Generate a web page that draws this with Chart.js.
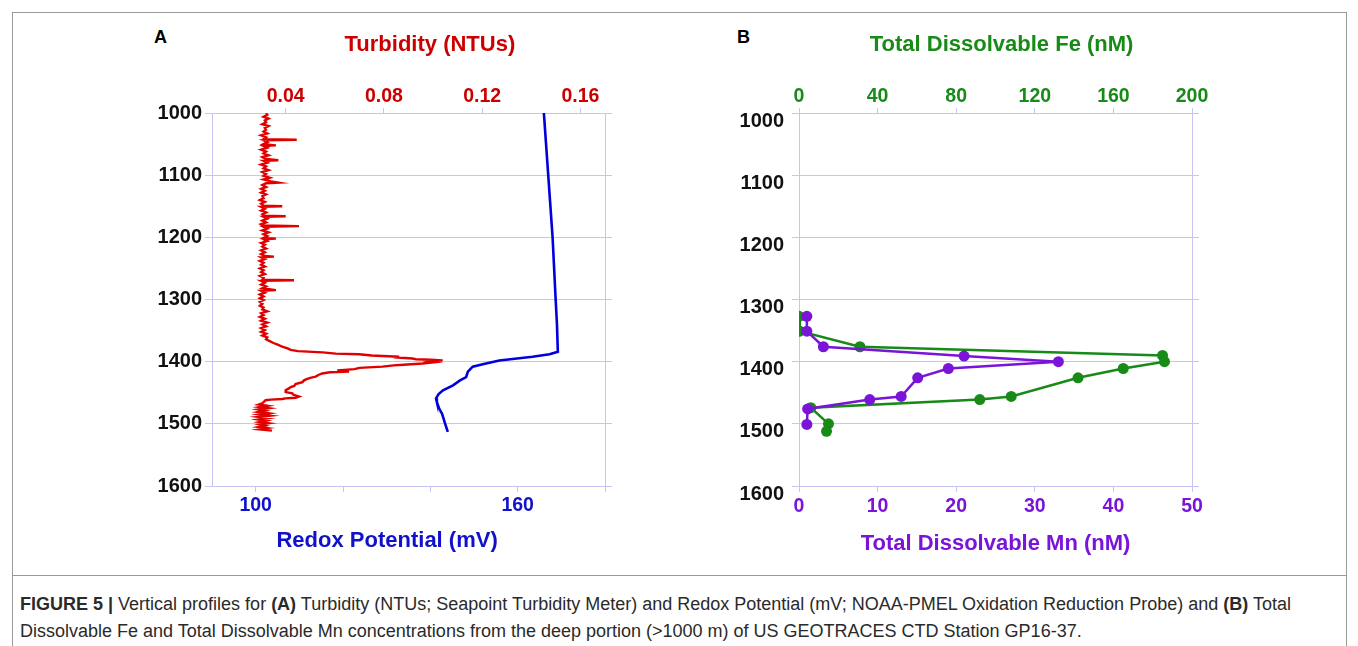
<!DOCTYPE html>
<html lang="en">

<head>
    <meta charset="UTF-8">
    <script src="https://cdn.jsdelivr.net/npm/chart.js"></script>
    <title>Figure 5</title>
    <style>
        body { margin: 0; background: #fff; font-family: "Liberation Sans", Arial, sans-serif; }
        #page { position: relative; width: 1358px; height: 646px; overflow: hidden; }
        #frame { position: absolute; left: 12px; top: 12px; width: 1333px; height: 700px; border: 1px solid #9a9a9a; }
        #sep { position: absolute; left: 12px; top: 575px; width: 1335px; height: 1px; background: #9a9a9a; }
        .panel { position: absolute; font-weight: bold; font-size: 18px; color: #000; }
        canvas { position: absolute; top: 0; }
        #caption { position: absolute; left: 20px; top: 591px; width: 1320px; font-size: 18px; line-height: 27px; color: #2a2a2a; }
    </style>
</head>

<body>
    <div id="page">
        <div id="frame"></div>
        <div id="sep"></div>
        <div class="panel" style="left:154px; top:27px;">A</div>
        <div class="panel" style="left:737px; top:27px;">B</div>
        <canvas id="panelA" width="520" height="575" style="left:130px;"></canvas>
        <canvas id="panelB" width="520" height="575" style="left:720px;"></canvas>
        <div id="caption"><b>FIGURE 5 |</b> Vertical profiles for <b>(A)</b> Turbidity (NTUs; Seapoint Turbidity Meter) and Redox Potential (mV; NOAA-PMEL Oxidation Reduction Probe) and <b>(B)</b> Total<br>Dissolvable Fe and Total Dissolvable Mn concentrations from the deep portion (&gt;1000 m) of US GEOTRACES CTD Station GP16-37.</div>
    </div>
</body>

<script>
    // ---- panel A : CTD profiles ----
    let turbDepth = [1000, 1003, 1006, 1009, 1012, 1015, 1018, 1021, 1024, 1027, 1030, 1033, 1036, 1039, 1042, 1043, 1044, 1047, 1050, 1052,
        1053, 1056, 1059, 1062, 1065, 1068, 1071, 1074, 1076, 1077, 1080, 1083, 1086, 1089, 1092, 1095, 1098, 1101, 1104, 1107,
        1110, 1112, 1113, 1116, 1119, 1122, 1125, 1128, 1131, 1134, 1137, 1140, 1143, 1146, 1149, 1150, 1151, 1154, 1157, 1160,
        1163, 1165, 1166, 1167, 1170, 1173, 1176, 1179, 1181, 1182, 1183, 1186, 1189, 1192, 1195, 1198, 1201, 1202, 1203, 1206,
        1209, 1212, 1215, 1218, 1221, 1224, 1227, 1230, 1231, 1232, 1235, 1238, 1241, 1244, 1247, 1250, 1253, 1256, 1259, 1262,
        1265, 1268, 1269, 1270, 1273, 1276, 1279, 1282, 1285, 1286, 1289, 1292, 1295, 1298, 1301, 1304, 1307, 1310, 1313, 1316,
        1319, 1322, 1325, 1328, 1331, 1334, 1337, 1340, 1343, 1346, 1349, 1352, 1355, 1358, 1361, 1364, 1367, 1370, 1373, 1376,
        1379, 1381, 1383, 1385, 1387, 1388, 1390, 1392, 1393, 1395, 1396, 1397, 1398, 1399, 1400, 1401, 1403, 1405, 1406, 1408,
        1410, 1412, 1414, 1416, 1417, 1419, 1421, 1424, 1426, 1428, 1430, 1433, 1436, 1439, 1441, 1443, 1446, 1449, 1451, 1453,
        1456, 1458, 1459, 1460, 1461, 1462, 1465, 1467, 1469, 1471, 1473, 1475, 1477, 1479, 1481, 1483, 1485, 1487, 1489, 1491,
        1493, 1495, 1497, 1499, 1501, 1503, 1505, 1507, 1509, 1511];
    let turbValue = [0.032, 0.0325, 0.031, 0.033, 0.0315, 0.032, 0.0305, 0.033, 0.0315, 0.032, 0.031, 0.0325, 0.030, 0.032, 0.031, 0.0445, 0.031, 0.0325, 0.031, 0.036,
        0.031, 0.0325, 0.030, 0.032, 0.031, 0.033, 0.0305, 0.032, 0.037, 0.031, 0.0325, 0.030, 0.032, 0.031, 0.033, 0.0305, 0.032, 0.031, 0.0335, 0.031,
        0.034, 0.037, 0.032, 0.0305, 0.032, 0.030, 0.0315, 0.030, 0.032, 0.0305, 0.031, 0.0295, 0.0315, 0.030, 0.031, 0.0386, 0.030, 0.0315, 0.030, 0.032,
        0.0305, 0.031, 0.040, 0.031, 0.0325, 0.0305, 0.032, 0.030, 0.031, 0.0454, 0.031, 0.0325, 0.0305, 0.033, 0.031, 0.0325, 0.031, 0.036, 0.031, 0.0325,
        0.030, 0.0315, 0.0305, 0.032, 0.030, 0.0315, 0.030, 0.0315, 0.0352, 0.030, 0.0315, 0.0295, 0.031, 0.030, 0.0315, 0.0295, 0.031, 0.030, 0.0315, 0.0295,
        0.031, 0.0305, 0.0434, 0.030, 0.0315, 0.030, 0.032, 0.0305, 0.036, 0.030, 0.0315, 0.0295, 0.031, 0.0295, 0.031, 0.0295, 0.0305, 0.0295, 0.031, 0.0305,
        0.0325, 0.030, 0.031, 0.0295, 0.0315, 0.030, 0.0325, 0.0305, 0.032, 0.030, 0.0315, 0.030, 0.032, 0.0305, 0.0325, 0.032, 0.0335, 0.035, 0.037, 0.0386,
        0.041, 0.042, 0.045, 0.055, 0.0604, 0.0699, 0.075, 0.0862, 0.084, 0.0916, 0.093, 0.099, 0.1039, 0.101, 0.099, 0.1005, 0.0957, 0.088, 0.084, 0.0794,
        0.070, 0.068, 0.061, 0.0658, 0.058, 0.0549, 0.0535, 0.0522, 0.050, 0.0485, 0.0475, 0.0468, 0.044, 0.0435, 0.042, 0.0413, 0.040, 0.040, 0.0427, 0.043,
        0.0454, 0.044, 0.040, 0.0386, 0.034, 0.0318, 0.031, 0.0304, 0.029, 0.0325, 0.0295, 0.033, 0.029, 0.0315, 0.029, 0.033, 0.0295, 0.0335, 0.029, 0.0325,
        0.029, 0.032, 0.0295, 0.033, 0.0295, 0.0315, 0.029, 0.0325, 0.0295, 0.0344];

    let redoxDepth = [1000, 1100, 1200, 1300, 1340, 1384, 1388, 1392, 1398, 1404, 1408, 1416, 1425, 1430, 1438, 1446, 1452, 1459, 1465, 1475, 1484, 1500, 1513];
    let redoxValue = [166.0, 167.0, 168.0, 168.7, 169.0, 169.2, 167.3, 163.4, 155.8, 152.0, 149.7, 148.6, 148.2, 146.8, 145.2, 142.9, 141.9, 141.3, 141.5, 142.0, 142.7, 143.4, 144.0];

    let turbTicks = [0.04, 0.08, 0.12, 0.16];
    let redoxTicks = [100, 120, 140, 160, 180];
    let redoxLabels = [100, 160];

    // ---- panel B : bottle samples ----
    let feDepth = [1327, 1351, 1376, 1390, 1400, 1411, 1426, 1456, 1461, 1474, 1500, 1512];
    let feValue = [0, 0.4, 31, 185, 186, 165, 142, 108, 92, 6, 15, 14];
    let mnDepth = [1327, 1351, 1376, 1391, 1400, 1411, 1426, 1456, 1461, 1476, 1501];
    let mnValue = [1.0, 1.0, 3.1, 21.0, 33.0, 19.0, 15.1, 13.0, 9.0, 1.1, 1.0];

    let feTicks = [0, 40, 80, 120, 160, 200];
    let mnTicks = [0, 10, 20, 30, 40, 50];
    let depthTicks = [1000, 1100, 1200, 1300, 1400, 1500, 1600];

    const GRID = '#c6c6f6';
    const RED = '#e00000', BLUE = '#0000dd', GREEN = '#178a17', PURPLE = '#7a14d8';
    const FONT = 'Liberation Sans, Arial, sans-serif';

    function pts(xs, ys) {
        return xs.map((v, i) => ({ x: v, y: ys[i] }));
    }

    function depthAxes(labelPad, labelShift, leftW, rightW) {
        return {
            y: {
                type: 'linear', position: 'left', reverse: true, min: 1000, max: 1600,
                afterBuildTicks: s => { s.ticks = depthTicks.map(v => ({ value: v })); },
                afterFit: s => { s.width = leftW; },
                ticks: { color: '#111', padding: labelPad, labelOffset: labelShift, callback: v => String(v), font: { family: FONT, size: 20, weight: 'bold' } },
                grid: { color: GRID, tickLength: 7 },
                border: { color: GRID }
            },
            yR: {
                type: 'linear', position: 'right', reverse: true, min: 1000, max: 1600,
                afterBuildTicks: s => { s.ticks = depthTicks.map(v => ({ value: v })); },
                afterFit: s => { s.width = rightW; },
                ticks: { callback: () => '', padding: 0 },
                grid: { color: GRID, tickLength: 7, drawOnChartArea: false },
                border: { color: GRID }
            }
        };
    }

    function xAxis(pos, min, max, tickVals, labelFn, color, title, h, tickLen, labelPad, tPad) {
        return {
            type: 'linear', position: pos, min: min, max: max,
            afterBuildTicks: s => { s.ticks = tickVals.map(v => ({ value: v })); },
            afterFit: s => { s.height = h; },
            ticks: { color: color, padding: labelPad, callback: labelFn, font: { family: FONT, size: 19.5, weight: 'bold' } },
            grid: { color: GRID, tickLength: tickLen, drawOnChartArea: false },
            border: { color: GRID },
            title: { display: true, text: title, color: color, padding: tPad, font: { family: FONT, size: 22, weight: 'bold' } }
        };
    }

    // spaces around some titles nudge them off the plot centre, as in the figure
    let axesA = depthAxes(3, 0, 82, 45);
    axesA.xT = xAxis('top', 0.01, 0.17, turbTicks, v => v.toFixed(2), '#cc0000', '       Turbidity (NTUs)', 113, 5, 0, { top: 32, bottom: 0 });
    axesA.xB = xAxis('bottom', 90, 180, redoxTicks, v => redoxLabels.includes(v) ? v : '', '#1111cc', 'Redox Potential (mV)       ', 89, 6, 2, { top: 0, bottom: 21 });

    new Chart(document.getElementById('panelA'), {
        type: 'scatter',
        data: {
            datasets: [{
                data: pts(turbValue, turbDepth), xAxisID: 'xT', yAxisID: 'y',
                showLine: true, borderColor: RED, borderWidth: 2.4, pointRadius: 0
            }, {
                data: pts(redoxValue, redoxDepth), xAxisID: 'xB', yAxisID: 'y',
                showLine: true, borderColor: BLUE, borderWidth: 2.6, pointRadius: 0
            }]
        },
        options: {
            responsive: false, animation: false, devicePixelRatio: 1,
            layout: { padding: 0 },
            plugins: { legend: { display: false }, tooltip: { enabled: false } },
            scales: axesA
        }
    });

    let axesB = depthAxes(8, 8, 79, 48);
    axesB.xT = xAxis('top', 0, 200, feTicks, v => v, GREEN, '  Total Dissolvable Fe (nM)', 113, 5, 0, { top: 32, bottom: 0 });
    axesB.xB = xAxis('bottom', 0, 50, mnTicks, v => v, PURPLE, 'Total Dissolvable Mn (nM)', 89, 6, 3, { top: 0, bottom: 18 });

    new Chart(document.getElementById('panelB'), {
        type: 'scatter',
        data: {
            datasets: [{
                data: pts(feValue, feDepth), xAxisID: 'xT', yAxisID: 'y', order: 1,
                showLine: true, borderColor: GREEN, backgroundColor: GREEN, borderWidth: 2.5,
                pointRadius: 5.5, pointBorderWidth: 0
            }, {
                data: pts(mnValue, mnDepth), xAxisID: 'xB', yAxisID: 'y', order: 0,
                showLine: true, borderColor: PURPLE, backgroundColor: PURPLE, borderWidth: 2.5,
                pointRadius: 5.5, pointBorderWidth: 0
            }]
        },
        options: {
            responsive: false, animation: false, devicePixelRatio: 1,
            layout: { padding: 0 },
            plugins: { legend: { display: false }, tooltip: { enabled: false } },
            scales: axesB
        }
    });
</script>

</html>
